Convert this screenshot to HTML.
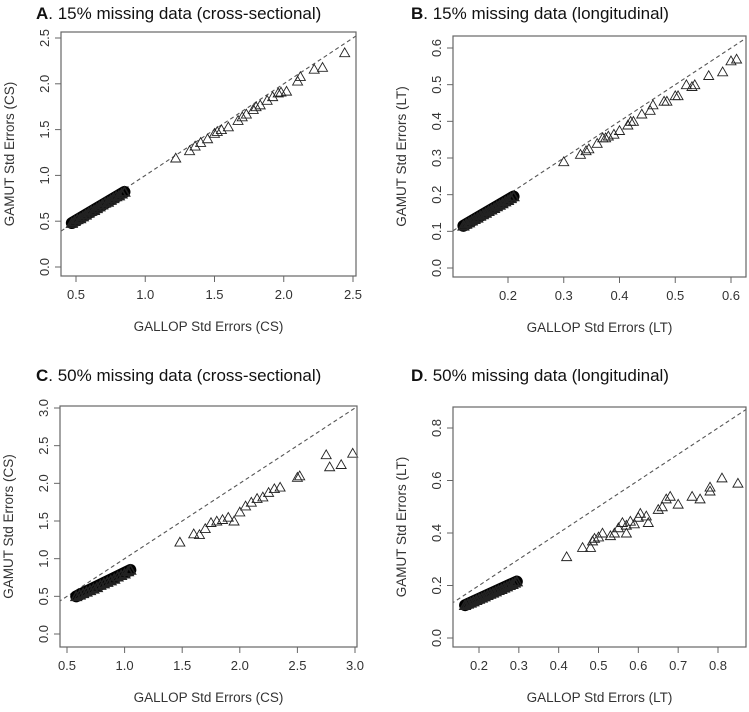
<!DOCTYPE html>
<html><head><meta charset="utf-8"><style>
html,body{margin:0;background:#fff;overflow:hidden;width:749px;height:712px;}
svg{display:block;font-family:"Liberation Sans",Arial,sans-serif;}
</style></head><body>
<svg id="fig" width="749" height="712" viewBox="0 0 749 712" xmlns="http://www.w3.org/2000/svg"></svg>
<script>
// Panel A data
const aClusterX=[0.47,0.49,0.51,0.53,0.55,0.57,0.59,0.61,0.63,0.65,0.67,0.69,0.71,0.73,0.75,0.77,0.79,0.81,0.83,0.85];
const aClusterY=[0.48,0.50,0.52,0.53,0.55,0.57,0.59,0.61,0.62,0.64,0.66,0.68,0.70,0.71,0.73,0.75,0.77,0.78,0.80,0.82];
const aX=[1.22,1.32,1.36,1.4,1.45,1.5,1.52,1.55,1.6,1.67,1.7,1.73,1.78,1.8,1.83,1.88,1.92,1.96,1.98,2.02,2.1,2.12,2.22,2.28,2.44];
const aY=[1.19,1.27,1.32,1.36,1.4,1.46,1.48,1.5,1.53,1.6,1.64,1.67,1.72,1.75,1.77,1.82,1.86,1.9,1.91,1.92,2.03,2.08,2.16,2.18,2.34];
const aTicksX=[0.5,1.0,1.5,2.0,2.5];
const aTicksY=[0.0,0.5,1.0,1.5,2.0,2.5];
// Panel B data
const bClusterX=[0.12,0.125,0.13,0.135,0.14,0.145,0.15,0.155,0.16,0.165,0.17,0.175,0.18,0.185,0.19,0.195,0.2,0.205,0.21];
const bClusterY=[0.115,0.12,0.124,0.129,0.133,0.137,0.142,0.146,0.15,0.155,0.159,0.163,0.168,0.172,0.176,0.181,0.185,0.19,0.195];
const bX=[0.30,0.33,0.34,0.345,0.36,0.37,0.375,0.38,0.39,0.4,0.415,0.42,0.425,0.44,0.455,0.46,0.48,0.485,0.5,0.505,0.52,0.53,0.535,0.56,0.585,0.6,0.61];
const bY=[0.29,0.31,0.32,0.325,0.34,0.355,0.355,0.36,0.365,0.375,0.39,0.4,0.4,0.42,0.43,0.445,0.455,0.455,0.47,0.47,0.5,0.495,0.5,0.525,0.535,0.565,0.57];
const bTicksX=[0.2,0.3,0.4,0.5,0.6];
const bTicksY=[0.0,0.1,0.2,0.3,0.4,0.5,0.6];
// Panel C data
const cClusterX=[0.58,0.61,0.64,0.67,0.7,0.73,0.76,0.79,0.82,0.85,0.88,0.91,0.94,0.97,1.0,1.03,1.05];
const cClusterY=[0.5,0.52,0.54,0.56,0.58,0.6,0.62,0.65,0.67,0.69,0.71,0.73,0.76,0.78,0.8,0.83,0.85];
const cX=[1.48,1.6,1.65,1.7,1.75,1.8,1.85,1.9,1.95,2.0,2.05,2.1,2.15,2.2,2.25,2.3,2.35,2.5,2.52,2.75,2.78,2.88,2.98];
const cY=[1.22,1.33,1.32,1.4,1.48,1.5,1.52,1.55,1.5,1.62,1.7,1.75,1.8,1.82,1.88,1.93,1.95,2.08,2.1,2.38,2.22,2.25,2.4];
const cTicksX=[0.5,1.0,1.5,2.0,2.5,3.0];
const cTicksY=[0.0,0.5,1.0,1.5,2.0,2.5,3.0];
// Panel D data
const dClusterX=[0.165,0.172,0.179,0.186,0.193,0.2,0.207,0.214,0.221,0.228,0.235,0.242,0.249,0.256,0.263,0.27,0.277,0.284,0.29,0.295];
const dClusterY=[0.125,0.13,0.134,0.139,0.144,0.149,0.153,0.158,0.163,0.168,0.172,0.177,0.182,0.186,0.191,0.196,0.201,0.205,0.21,0.215];
const dX=[0.42,0.46,0.48,0.485,0.49,0.5,0.51,0.53,0.54,0.55,0.56,0.57,0.57,0.58,0.59,0.6,0.605,0.62,0.625,0.65,0.66,0.67,0.68,0.7,0.735,0.755,0.78,0.78,0.81,0.85];
const dY=[0.31,0.345,0.345,0.37,0.38,0.385,0.4,0.39,0.4,0.42,0.44,0.4,0.43,0.445,0.435,0.46,0.475,0.465,0.44,0.49,0.5,0.53,0.54,0.51,0.54,0.53,0.56,0.575,0.61,0.59];
const dTicksX=[0.2,0.3,0.4,0.5,0.6,0.7,0.8];
const dTicksY=[0.0,0.2,0.4,0.6,0.8];

const NS="http://www.w3.org/2000/svg";
const svg=document.getElementById('fig');
function mk(tag,attrs,parent){const e=document.createElementNS(NS,tag);for(const k in attrs)e.setAttribute(k,attrs[k]);(parent||svg).appendChild(e);return e;}

function panel(o){
  const g=mk('g',{});
  
  
  const sx=v=>o.px0+(v-o.vx0)*(o.px1-o.px0)/(o.vx1-o.vx0);
  const sy=v=>o.py0+(v-o.vy0)*(o.py1-o.py0)/(o.vy1-o.vy0);
  const t=mk('text',{x:o.tx,y:o.ty,'font-size':17,fill:'#111','font-family':'"Liberation Sans",sans-serif'},g);
  
  
  const b=mk('tspan',{'font-weight':'bold'},t);b.textContent=o.letter;
  const r=mk('tspan',{},t);r.textContent='. '+o.title;
  const cid='clip-'+o.letter;
  const cp=mk('clipPath',{id:cid},g);
  mk('rect',{x:o.bx0,y:o.by0,width:o.bx1-o.bx0,height:o.by1-o.by0},cp);
  const lo=Math.min(o.vx0,o.vy0)-1, hi=Math.max(o.vx1,o.vy1)+1;
  const dl=mk('line',{x1:sx(lo),y1:sy(lo),x2:sx(hi),y2:sy(hi),stroke:'#555','stroke-width':1.1,'stroke-dasharray':'4,3','clip-path':'url(#'+cid+')'},g);
  
  
  const tri=(x,y,s,sw,nm)=>{
    const X=sx(x),Y=sy(y);
    const p=mk('polygon',{points:`${X-s},${Y+s*0.8} ${X+s},${Y+s*0.8} ${X},${Y-s*0.95}`,fill:'none',stroke:'#222','stroke-width':sw},g);
    
    
  };
  const cx=o.cX, cy=o.cY;
  const band=mk('line',{x1:sx(cx[0]),y1:sy(cy[0]),x2:sx(cx[cx.length-1]),y2:sy(cy[cy.length-1]),stroke:'#000','stroke-width':12,'stroke-linecap':'round'},g);
  
  
  for(let i=0;i<cx.length;i++)tri(cx[i],cy[i],5,1.6,'cluster-point');
  for(let i=0;i<o.x.length;i++)tri(o.x[i],o.y[i],5,0.9,'data-point');
  const bx=mk('rect',{x:o.bx0,y:o.by0,width:o.bx1-o.bx0,height:o.by1-o.by0,fill:'none',stroke:'#666','stroke-width':1.2},g);
  
  
  o.tX.forEach(v=>{
    const X=sx(v);
    mk('line',{x1:X,y1:o.by1,x2:X,y2:o.by1+6,stroke:'#666'},g);
    const tl=mk('text',{x:X,y:o.by1+23,'text-anchor':'middle','font-size':13,fill:'#333'},g);
    
    
    tl.textContent=v.toFixed(1);
  });
  o.tY.forEach(v=>{
    const Y=sy(v);
    mk('line',{x1:o.bx0,y1:Y,x2:o.bx0-6,y2:Y,stroke:'#666'},g);
    const tl=mk('text',{x:o.bx0-12,y:Y,'text-anchor':'middle','font-size':13,fill:'#333',transform:`rotate(-90 ${o.bx0-12} ${Y})`},g);
    
    
    tl.textContent=v.toFixed(1);
  });
  const xt=mk('text',{x:(o.bx0+o.bx1)/2,y:o.by1+55,'text-anchor':'middle','font-size':13.5,fill:'#333'},g);
  
  
  xt.textContent=o.xlab;
  const yc=(o.by0+o.by1)/2, yx=o.bx0-47;
  const yt=mk('text',{x:yx,y:yc,'text-anchor':'middle','font-size':13.5,fill:'#333',transform:`rotate(-90 ${yx} ${yc})`},g);
  
  
  yt.textContent=o.ylab;
}

panel({name:'panel-a',letter:'A',title:'15% missing data (cross-sectional)',tx:36,ty:19,
  bx0:61,bx1:356,by0:32,by1:276,vx0:0.5,vx1:2.5,px0:76,px1:353,vy0:0,vy1:2.5,py0:267,py1:38,
  cX:aClusterX,cY:aClusterY,x:aX,y:aY,tX:aTicksX,tY:aTicksY,xlab:'GALLOP Std Errors (CS)',ylab:'GAMUT Std Errors (CS)'});
panel({name:'panel-b',letter:'B',title:'15% missing data (longitudinal)',tx:411,ty:19,
  bx0:453,bx1:746,by0:36,by1:277,vx0:0.2,vx1:0.6,px0:508,px1:731,vy0:0,vy1:0.6,py0:268,py1:48,
  cX:bClusterX,cY:bClusterY,x:bX,y:bY,tX:bTicksX,tY:bTicksY,xlab:'GALLOP Std Errors (LT)',ylab:'GAMUT Std Errors (LT)'});
panel({name:'panel-c',letter:'C',title:'50% missing data (cross-sectional)',tx:36,ty:381,
  bx0:60,bx1:357,by0:406,by1:647,vx0:0.5,vx1:3.0,px0:67,px1:355,vy0:0,vy1:3.0,py0:634,py1:408,
  cX:cClusterX,cY:cClusterY,x:cX,y:cY,tX:cTicksX,tY:cTicksY,xlab:'GALLOP Std Errors (CS)',ylab:'GAMUT Std Errors (CS)'});
panel({name:'panel-d',letter:'D',title:'50% missing data (longitudinal)',tx:411,ty:381,
  bx0:453,bx1:746,by0:407,by1:647,vx0:0.2,vx1:0.8,px0:479,px1:718,vy0:0,vy1:0.8,py0:638,py1:428,
  cX:dClusterX,cY:dClusterY,x:dX,y:dY,tX:dTicksX,tY:dTicksY,xlab:'GALLOP Std Errors (LT)',ylab:'GAMUT Std Errors (LT)'});
</script>
</body></html>
